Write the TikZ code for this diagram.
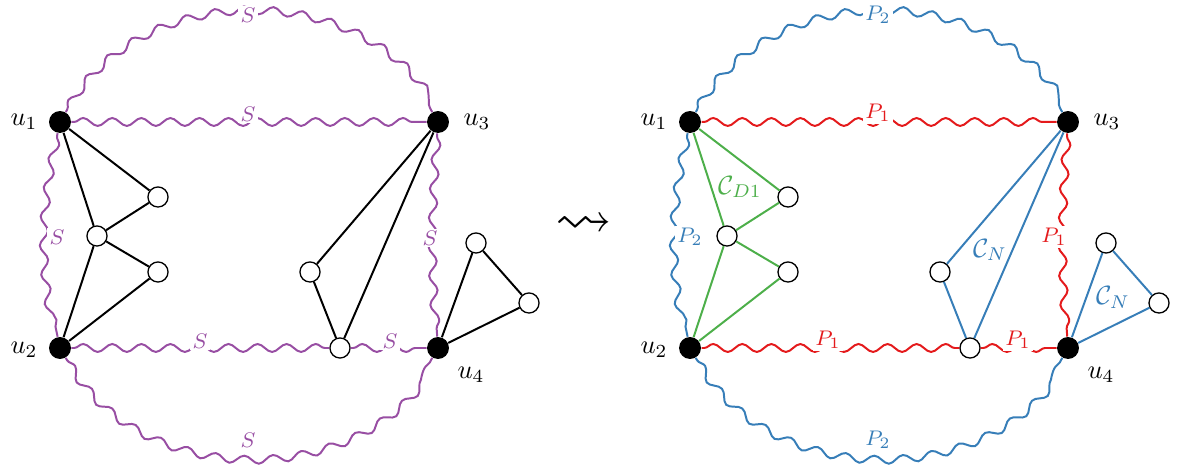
\documentclass[tikz,border=0pt]{standalone}
\usepackage{amssymb}
\usetikzlibrary{decorations.pathmorphing}
\definecolor{spurple}{HTML}{984EA3}
\definecolor{sblue}{HTML}{377EB8}
\definecolor{sred}{HTML}{E41A1C}
\definecolor{sgreen}{HTML}{4DAF4A}
\begin{document}
\begin{tikzpicture}[x=0.0133cm,y=0.0133cm,
  bv/.style={circle,fill=black,inner sep=0pt,minimum size=8.3pt},
  wv/.style={circle,draw=black,fill=white,inner sep=0pt,minimum size=7.6pt,line width=0.5pt},
  wavy/.style={decorate,decoration={snake,segment length=11pt,amplitude=1.5pt,pre length=1pt,post length=1pt},line width=0.75pt},
  edge/.style={line width=0.75pt},
  lab/.style={font=\footnotesize,inner sep=0.8pt,fill=white},
  ulab/.style={font=\normalsize,inner sep=0pt}]
\useasboundingbox (0,0) rectangle (1180,470);

% ---------- left panel ----------
\node[bv] (LU1) at (60,348) {};
\node[bv] (LU2) at (60,122) {};
\node[bv] (LU3) at (438,348) {};
\node[bv] (LU4) at (438,122) {};
\node[wv] (La1) at (158,273) {};
\node[wv] (La2) at (97,234) {};
\node[wv] (La3) at (158,198) {};
\node[wv] (Lb1) at (310,198) {};
\node[wv] (Lb2) at (340,122) {};
\node[wv] (Lc1) at (476,227) {};
\node[wv] (Lc2) at (529,167) {};

\node[ulab] (lu1) at (24,348) {$u_1$};
\node[ulab] (lu2) at (24,120) {$u_2$};
\node[ulab] (lu3) at (477,348) {$u_3$};
\node[ulab] (lu4) at (471,95) {$u_4$};

\begin{scope}[spurple]
\draw[wavy] (LU1) to[bend left=60,looseness=1.03] (LU3);
\draw[wavy] (LU1) -- (LU3);
\draw[wavy] (LU1) to[bend right=12] (LU2);
\draw[wavy] (LU3) to[bend right=4] (LU4);
\draw[wavy] (LU2) -- (Lb2);
\draw[wavy] (Lb2) -- (LU4);
\draw[wavy] (LU2) to[bend right=60,looseness=1.03] (LU4);
\end{scope}

\draw[edge] (LU1) -- (La1);
\draw[edge] (LU1) -- (La2);
\draw[edge] (La2) -- (La1);
\draw[edge] (La2) -- (La3);
\draw[edge] (La2) -- (LU2);
\draw[edge] (LU2) -- (La3);
\draw[edge] (LU3) -- (Lb1);
\draw[edge] (LU3) -- (Lb2);
\draw[edge] (Lb1) -- (Lb2);
\draw[edge] (LU4) -- (Lc1);
\draw[edge] (LU4) -- (Lc2);
\draw[edge] (Lc1) -- (Lc2);

\begin{scope}[every node/.style={lab,text=spurple}]
\node (ls1) at (248,455) {$S$};
\node (ls2) at (248,356) {$S$};
\node (ls3) at (57,233) {$S$};
\node (ls4) at (430,232) {$S$};
\node (ls5) at (200,129) {$S$};
\node (ls6) at (390,129) {$S$};
\node[fill=none] (ls7) at (248,30) {$S$};
\end{scope}

% ---------- arrow ----------
\node (arr) at (584,244) {\resizebox{21.5pt}{!}{$\rightsquigarrow$}};

% ---------- right panel ----------
\node[bv] (RU1) at (690,348) {};
\node[bv] (RU2) at (690,122) {};
\node[bv] (RU3) at (1068,348) {};
\node[bv] (RU4) at (1068,122) {};
\node[wv] (Ra1) at (788,273) {};
\node[wv] (Ra2) at (727,234) {};
\node[wv] (Ra3) at (788,198) {};
\node[wv] (Rb1) at (940,198) {};
\node[wv] (Rb2) at (970,122) {};
\node[wv] (Rc1) at (1106,227) {};
\node[wv] (Rc2) at (1159,167) {};

\node[ulab] (ru1) at (654,348) {$u_1$};
\node[ulab] (ru2) at (654,120) {$u_2$};
\node[ulab] (ru3) at (1107,348) {$u_3$};
\node[ulab] (ru4) at (1101,95) {$u_4$};

\draw[wavy,sblue] (RU1) to[bend left=60,looseness=1.03] (RU3);
\draw[wavy,sred] (RU1) -- (RU3);
\draw[wavy,sblue] (RU1) to[bend right=12] (RU2);
\draw[wavy,sred] (RU3) to[bend right=4] (RU4);
\draw[wavy,sred] (RU2) -- (Rb2);
\draw[wavy,sred] (Rb2) -- (RU4);
\draw[wavy,sblue] (RU2) to[bend right=60,looseness=1.03] (RU4);

\begin{scope}[sgreen]
\draw[edge] (RU1) -- (Ra1);
\draw[edge] (RU1) -- (Ra2);
\draw[edge] (Ra2) -- (Ra1);
\draw[edge] (Ra2) -- (Ra3);
\draw[edge] (Ra2) -- (RU2);
\draw[edge] (RU2) -- (Ra3);
\end{scope}
\begin{scope}[sblue]
\draw[edge] (RU3) -- (Rb1);
\draw[edge] (RU3) -- (Rb2);
\draw[edge] (Rb1) -- (Rb2);
\draw[edge] (RU4) -- (Rc1);
\draw[edge] (RU4) -- (Rc2);
\draw[edge] (Rc1) -- (Rc2);
\end{scope}

\begin{scope}[every node/.style={lab}]
\node[text=sblue] (rp1) at (878,455) {$P_2$};
\node[text=sred] (rp2) at (878,357) {$P_1$};
\node[text=sblue] (rp3) at (690,233) {$P_2$};
\node[text=sred] (rp4) at (1054,233) {$P_1$};
\node[text=sred] (rp5) at (828,130) {$P_1$};
\node[text=sred] (rp6) at (1018,130) {$P_1$};
\node[text=sblue,fill=none] (rp7) at (878,30) {$P_2$};
\end{scope}

\node[text=sgreen,inner sep=0pt] (cd) at (740,283) {$\mathcal{C}_{D1}$};
\node[text=sblue,inner sep=0pt] (cn1) at (990,220) {$\mathcal{C}_{N}$};
\node[text=sblue,inner sep=0pt] (cn2) at (1113,173) {$\mathcal{C}_{N}$};
\end{tikzpicture}
\end{document}
